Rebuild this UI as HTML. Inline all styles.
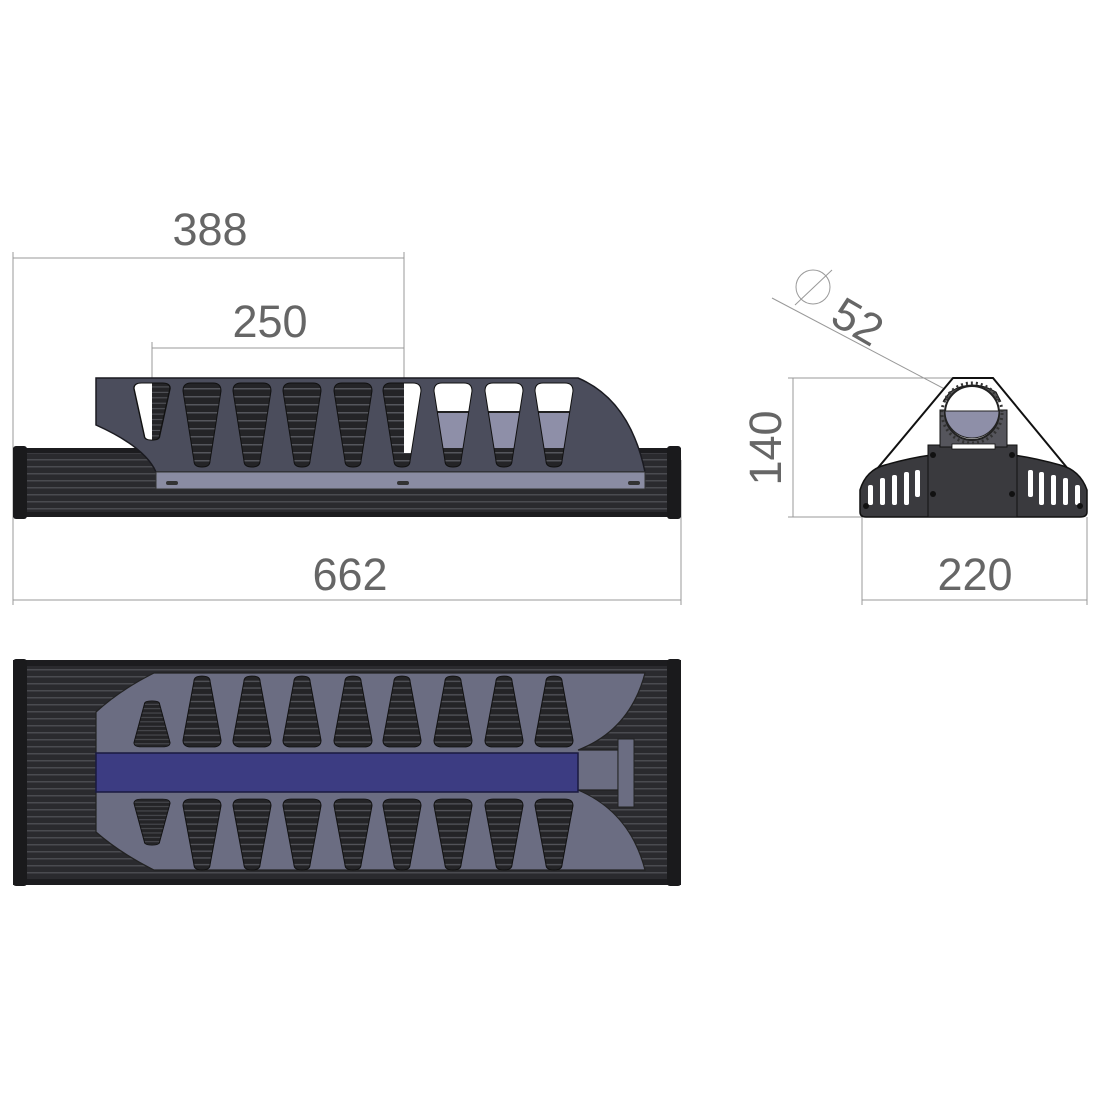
<!DOCTYPE html>
<html><head><meta charset="utf-8"><style>
html,body{margin:0;padding:0;background:#fff;}
svg{display:block;}
text{font-family:"Liberation Sans",sans-serif;fill:#666;font-size:45px;}
</style></head><body>
<svg width="1100" height="1100" viewBox="0 0 1100 1100" xmlns="http://www.w3.org/2000/svg">
<defs>
  <pattern id="stripe" width="10" height="8" patternUnits="userSpaceOnUse">
    <rect width="10" height="8" fill="#242427"/>
    <rect y="5" width="10" height="1.5" fill="#55565c"/>
  </pattern>
  <pattern id="rail" width="10" height="7" patternUnits="userSpaceOnUse">
    <rect width="10" height="7" fill="#2a2a2e"/>
    <rect y="4" width="10" height="1.5" fill="#4a4b50"/>
  </pattern>
  <path id="slot" d="M-19,8 Q-19,0 -11,0 L11,0 Q19,0 19,8 L8,78 Q8,84 0,84 Q-8,84 -8,78 Z"/>
  <path id="slotS" d="M-17,8 Q-17,0 -9,0 L9,0 Q17,0 17,8 L7,51 Q7,57 0,57 Q-7,57 -7,51 Z"/>
  <clipPath id="cs"><use href="#slot"/></clipPath>
  <clipPath id="csS"><use href="#slotS"/></clipPath>
</defs>

<!-- dimension lines -->
<g stroke="#999" stroke-width="1" fill="none">
  <line x1="13" y1="258" x2="404" y2="258"/>
  <line x1="152" y1="348" x2="404" y2="348"/>
  <line x1="13" y1="600" x2="681" y2="600"/>
  <line x1="13" y1="252" x2="13" y2="605"/>
  <line x1="404" y1="252" x2="404" y2="470"/>
  <line x1="152" y1="342" x2="152" y2="440"/>
  <line x1="681" y1="460" x2="681" y2="605"/>
  <line x1="793" y1="378" x2="793" y2="517"/>
  <line x1="788" y1="378" x2="960" y2="378"/>
  <line x1="788" y1="517" x2="862" y2="517"/>
  <line x1="862" y1="517" x2="862" y2="605"/>
  <line x1="1087" y1="517" x2="1087" y2="605"/>
  <line x1="862" y1="600" x2="1087" y2="600"/>
  <line x1="772" y1="298" x2="975" y2="405"/>
  <circle cx="813" cy="287" r="17"/>
  <line x1="795" y1="305" x2="832" y2="270"/>
</g>
<text x="210" y="245" text-anchor="middle">388</text>
<text x="270" y="337" text-anchor="middle">250</text>
<text x="350" y="590" text-anchor="middle">662</text>
<text x="975" y="590" text-anchor="middle">220</text>
<text transform="translate(781,448) rotate(-90)" text-anchor="middle">140</text>
<text transform="translate(850,335) rotate(30)" text-anchor="middle">52</text>

<!-- SIDE VIEW -->
<rect x="13" y="448" width="668" height="69" fill="url(#rail)"/>
<rect x="13" y="448" width="668" height="5" fill="#1c1c1f"/>
<rect x="13" y="512" width="668" height="5" fill="#1c1c1f"/>
<rect x="13" y="446" width="14" height="73" rx="3" fill="#1a1a1c"/>
<rect x="667" y="446" width="14" height="73" rx="3" fill="#1a1a1c"/>
<path d="M96,378 L578,378 Q630,400 645,472 L156,472 Q145,447 96,425 Z" fill="#4b4d5c" stroke="#1a1a20" stroke-width="1.5"/>
<rect x="156" y="472" width="489" height="17" fill="#8a8ca2" stroke="#333" stroke-width="1"/>
<rect x="166" y="481" width="12" height="4" rx="2" fill="#333"/>
<rect x="397" y="481" width="12" height="4" rx="2" fill="#333"/>
<rect x="628" y="481" width="12" height="4" rx="2" fill="#333"/>
<!-- side slots -->
<g transform="translate(152,383) scale(0.95,0.68)"><g clip-path="url(#cs)"><rect x="-20" y="0" width="40" height="86" fill="url(#stripe)"/><rect x="-20" y="0" width="20" height="86" fill="#fff"/></g><use href="#slot" fill="none" stroke="#111" stroke-width="1.5"/></g>
<g transform="translate(202,383)"><use href="#slot" fill="url(#stripe)" stroke="#111"/></g>
<g transform="translate(252,383)"><use href="#slot" fill="url(#stripe)" stroke="#111"/></g>
<g transform="translate(302,383)"><use href="#slot" fill="url(#stripe)" stroke="#111"/></g>
<g transform="translate(353,383)"><use href="#slot" fill="url(#stripe)" stroke="#111"/></g>
<g transform="translate(402,383)"><g clip-path="url(#cs)"><rect x="-20" y="0" width="40" height="86" fill="url(#stripe)"/><rect x="2" y="0" width="20" height="70" fill="#fff"/></g><use href="#slot" fill="none" stroke="#111"/></g>
<g transform="translate(453,383)"><g clip-path="url(#cs)"><rect x="-20" y="0" width="40" height="86" fill="url(#stripe)"/><rect x="-20" y="0" width="40" height="29" fill="#fff"/><rect x="-20" y="29" width="40" height="36" fill="#8e8fa8"/><rect x="-20" y="28" width="40" height="2" fill="#222"/></g><use href="#slot" fill="none" stroke="#111"/></g>
<g transform="translate(504,383)"><g clip-path="url(#cs)"><rect x="-20" y="0" width="40" height="86" fill="url(#stripe)"/><rect x="-20" y="0" width="40" height="29" fill="#fff"/><rect x="-20" y="29" width="40" height="36" fill="#8e8fa8"/><rect x="-20" y="28" width="40" height="2" fill="#222"/></g><use href="#slot" fill="none" stroke="#111"/></g>
<g transform="translate(554,383)"><g clip-path="url(#cs)"><rect x="-20" y="0" width="40" height="86" fill="url(#stripe)"/><rect x="-20" y="0" width="40" height="29" fill="#fff"/><rect x="-20" y="29" width="40" height="36" fill="#8e8fa8"/><rect x="-20" y="28" width="40" height="2" fill="#222"/></g><use href="#slot" fill="none" stroke="#111"/></g>

<!-- END VIEW -->
<path d="M953,378 L993,378 L1073,475 L872,475 Z" fill="#fff" stroke="#111" stroke-width="2"/>
<path d="M860,490 Q866,470 885,465 Q930,452 972,452 Q1015,452 1060,465 Q1080,470 1087,490 L1087,512 Q1087,517 1080,517 L866,517 Q860,517 860,512 Z" fill="#3a3a3e" stroke="#111" stroke-width="1.5"/>
<g fill="#fff">
  <rect x="868" y="485" width="5" height="20" rx="2"/><rect x="880" y="478" width="5" height="27" rx="2"/><rect x="892" y="475" width="5" height="30" rx="2"/><rect x="904" y="472" width="5" height="33" rx="2"/><rect x="915" y="470" width="5" height="27" rx="2"/>
  <rect x="1028" y="470" width="5" height="27" rx="2"/><rect x="1039" y="472" width="5" height="33" rx="2"/><rect x="1051" y="475" width="5" height="30" rx="2"/><rect x="1063" y="478" width="5" height="27" rx="2"/><rect x="1075" y="485" width="5" height="20" rx="2"/>
</g>
<rect x="928" y="445" width="89" height="72" fill="#3a3a3e" stroke="#111"/>
<rect x="940" y="410" width="67" height="37" fill="#55555c" stroke="#111"/>
<rect x="952" y="444" width="43" height="5" fill="#fff" stroke="#111" stroke-width="0.8"/>
<path d="M950,392 Q972,378 996,392 L1000,400 L944,400 Z" fill="#555" stroke="#111"/>
<circle cx="972" cy="413" r="27" fill="#fff" stroke="#222" stroke-width="2"/>
<path d="M945,411 L999,411 A27,27 0 0 1 945,411 Z" fill="#8e8fa8" stroke="#222"/>
<circle cx="972" cy="413" r="30" fill="none" stroke="#333" stroke-width="3" stroke-dasharray="2 3"/>
<g fill="#111"><circle cx="866" cy="506" r="3"/><circle cx="1080" cy="506" r="3"/><circle cx="933" cy="494" r="3"/><circle cx="1012" cy="494" r="3"/><circle cx="933" cy="455" r="3"/><circle cx="1012" cy="455" r="3"/></g>

<!-- TOP VIEW -->
<rect x="13" y="660" width="668" height="225" fill="url(#rail)"/>
<rect x="13" y="660" width="668" height="6" fill="#1c1c1f"/>
<rect x="13" y="879" width="668" height="6" fill="#1c1c1f"/>
<rect x="13" y="659" width="14" height="227" rx="3" fill="#1a1a1c"/>
<rect x="667" y="659" width="14" height="227" rx="3" fill="#1a1a1c"/>
<path d="M96,712 Q120,690 154,673 L645,673 Q630,730 578,750 L618,750 L618,790 L578,790 Q630,812 645,870 L154,870 Q120,853 96,832 Z" fill="#6b6d82" stroke="#222" stroke-width="1.2"/>
<rect x="618" y="739" width="16" height="68" fill="#6b6d82" stroke="#222"/>
<rect x="96" y="753" width="482" height="39" fill="#3c3c82" stroke="#1a1a40" stroke-width="1.5"/>
<!-- top row slots (narrow top) -->
<g transform="translate(152,747) scale(0.95,-0.55)"><use href="#slot" fill="url(#stripe)" stroke="#111"/></g>
<g transform="translate(202,747) scale(1,-0.845)"><use href="#slot" fill="url(#stripe)" stroke="#111"/></g>
<g transform="translate(252,747) scale(1,-0.845)"><use href="#slot" fill="url(#stripe)" stroke="#111"/></g>
<g transform="translate(302,747) scale(1,-0.845)"><use href="#slot" fill="url(#stripe)" stroke="#111"/></g>
<g transform="translate(353,747) scale(1,-0.845)"><use href="#slot" fill="url(#stripe)" stroke="#111"/></g>
<g transform="translate(402,747) scale(1,-0.845)"><use href="#slot" fill="url(#stripe)" stroke="#111"/></g>
<g transform="translate(453,747) scale(1,-0.845)"><use href="#slot" fill="url(#stripe)" stroke="#111"/></g>
<g transform="translate(504,747) scale(1,-0.845)"><use href="#slot" fill="url(#stripe)" stroke="#111"/></g>
<g transform="translate(554,747) scale(1,-0.845)"><use href="#slot" fill="url(#stripe)" stroke="#111"/></g>
<!-- bottom row slots -->
<g transform="translate(152,799) scale(0.95,0.55)"><use href="#slot" fill="url(#stripe)" stroke="#111"/></g>
<g transform="translate(202,799) scale(1,0.845)"><use href="#slot" fill="url(#stripe)" stroke="#111"/></g>
<g transform="translate(252,799) scale(1,0.845)"><use href="#slot" fill="url(#stripe)" stroke="#111"/></g>
<g transform="translate(302,799) scale(1,0.845)"><use href="#slot" fill="url(#stripe)" stroke="#111"/></g>
<g transform="translate(353,799) scale(1,0.845)"><use href="#slot" fill="url(#stripe)" stroke="#111"/></g>
<g transform="translate(402,799) scale(1,0.845)"><use href="#slot" fill="url(#stripe)" stroke="#111"/></g>
<g transform="translate(453,799) scale(1,0.845)"><use href="#slot" fill="url(#stripe)" stroke="#111"/></g>
<g transform="translate(504,799) scale(1,0.845)"><use href="#slot" fill="url(#stripe)" stroke="#111"/></g>
<g transform="translate(554,799) scale(1,0.845)"><use href="#slot" fill="url(#stripe)" stroke="#111"/></g>
</svg>
</body></html>
